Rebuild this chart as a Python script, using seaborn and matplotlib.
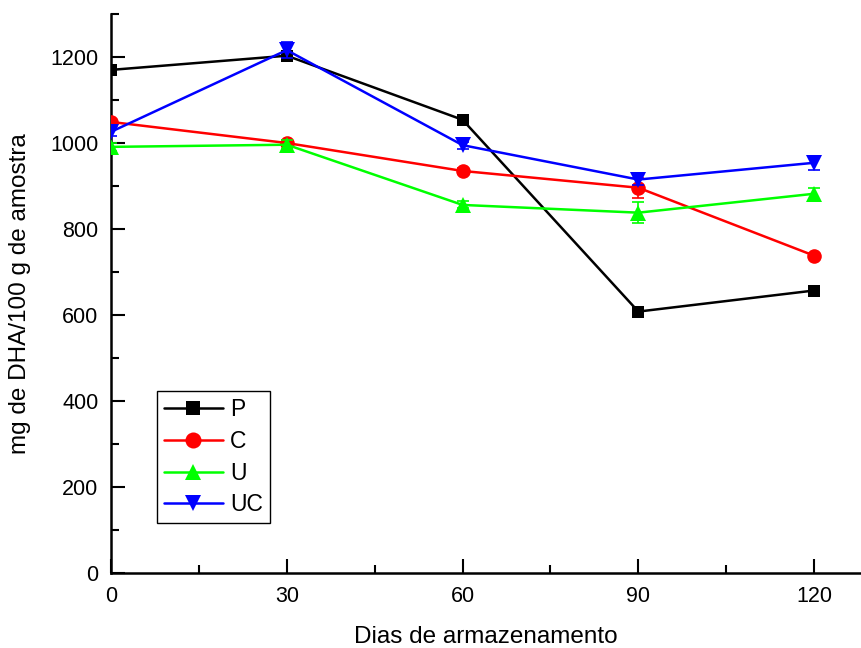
import matplotlib
matplotlib.use("Agg")
import matplotlib.pyplot as plt
import seaborn as sns
import pandas as pd
from matplotlib.ticker import MultipleLocator

days = [0, 30, 60, 90, 120]
series_names = ["P", "C", "U", "UC"]
P = [1170, 1203, 1054, 608, 657]
C = [1049, 1000, 935, 896, 738]
U = [991, 996, 856, 838, 882]
UC = [1026, 1216, 995, 915, 954]
P_err = [6, 6, 6, 5, 5]
C_err = [6, 8, 6, 23, 6]
U_err = [10, 10, 8, 24, 14]
UC_err = [10, 18, 8, 12, 16]

values = {"P": P, "C": C, "U": U, "UC": UC}
errors = {"P": P_err, "C": C_err, "U": U_err, "UC": UC_err}
colors = {"P": "#000000", "C": "#FF0000", "U": "#00FF00", "UC": "#0000FF"}
markers = {"P": "s", "C": "o", "U": "^", "UC": "v"}
msizes = {"P": 9, "C": 10.5, "U": 11, "UC": 11}

rows = []
for s in series_names:
    for d, v in zip(days, values[s]):
        rows.append({"Dias": d, "valor": v, "serie": s})
df = pd.DataFrame(rows)

sns.set_style("ticks")
plt.rcParams["font.family"] = ["Liberation Sans", "DejaVu Sans"]
plt.rcParams["text.color"] = "black"
plt.rcParams["axes.labelcolor"] = "black"
plt.rcParams["xtick.color"] = "black"
plt.rcParams["ytick.color"] = "black"

fig = plt.figure(figsize=(8.61, 6.48), dpi=100)
ax = fig.add_axes([0.1289, 0.1157, 0.8711, 0.8627])

for i, s in enumerate(series_names):
    ax.errorbar(days, values[s], yerr=errors[s], fmt="none", ecolor=colors[s],
                elinewidth=1.2, capsize=4, capthick=1.2, zorder=2 + i)
    sub = df[df["serie"] == s]
    sns.lineplot(data=sub, x="Dias", y="valor", ax=ax, color=colors[s],
                 marker=markers[s], markersize=msizes[s], markeredgewidth=0,
                 linewidth=1.8, label=s, zorder=2 + i, errorbar=None)

ax.set_xlim(0, 128)
ax.set_ylim(0, 1300)
ax.xaxis.set_major_locator(MultipleLocator(30))
ax.xaxis.set_minor_locator(MultipleLocator(15))
ax.yaxis.set_minor_locator(MultipleLocator(100))
ax.set_yticks([0, 200, 400, 600, 800, 1000, 1200])
ax.tick_params(which="major", direction="in", length=10, width=1.5, labelsize=15.5, pad=9,
               colors="black", labelcolor="black")
ax.tick_params(which="minor", direction="in", length=6, width=1.5)
for sp in ["top", "right"]:
    ax.spines[sp].set_visible(False)
for sp in ["left", "bottom"]:
    ax.spines[sp].set_linewidth(1.8)
    ax.spines[sp].set_color("black")

ax.set_xlabel("Dias de armazenamento", fontsize=17.5, labelpad=14, color="black")
ax.set_ylabel("mg de DHA/100 g de amostra", fontsize=17.5, labelpad=14, color="black")

leg = ax.legend(loc="lower left", bbox_to_anchor=(0.061, 0.089), fontsize=16.5,
                frameon=True, fancybox=False, edgecolor="black", framealpha=1,
                handlelength=2.6, handletextpad=0.3, borderpad=0.3, labelspacing=0.38,
                borderaxespad=0, markerscale=1.1)
leg.get_frame().set_linewidth(1.0)
for t in leg.get_texts():
    t.set_color("black")

fig.savefig("out.png", dpi=100)
